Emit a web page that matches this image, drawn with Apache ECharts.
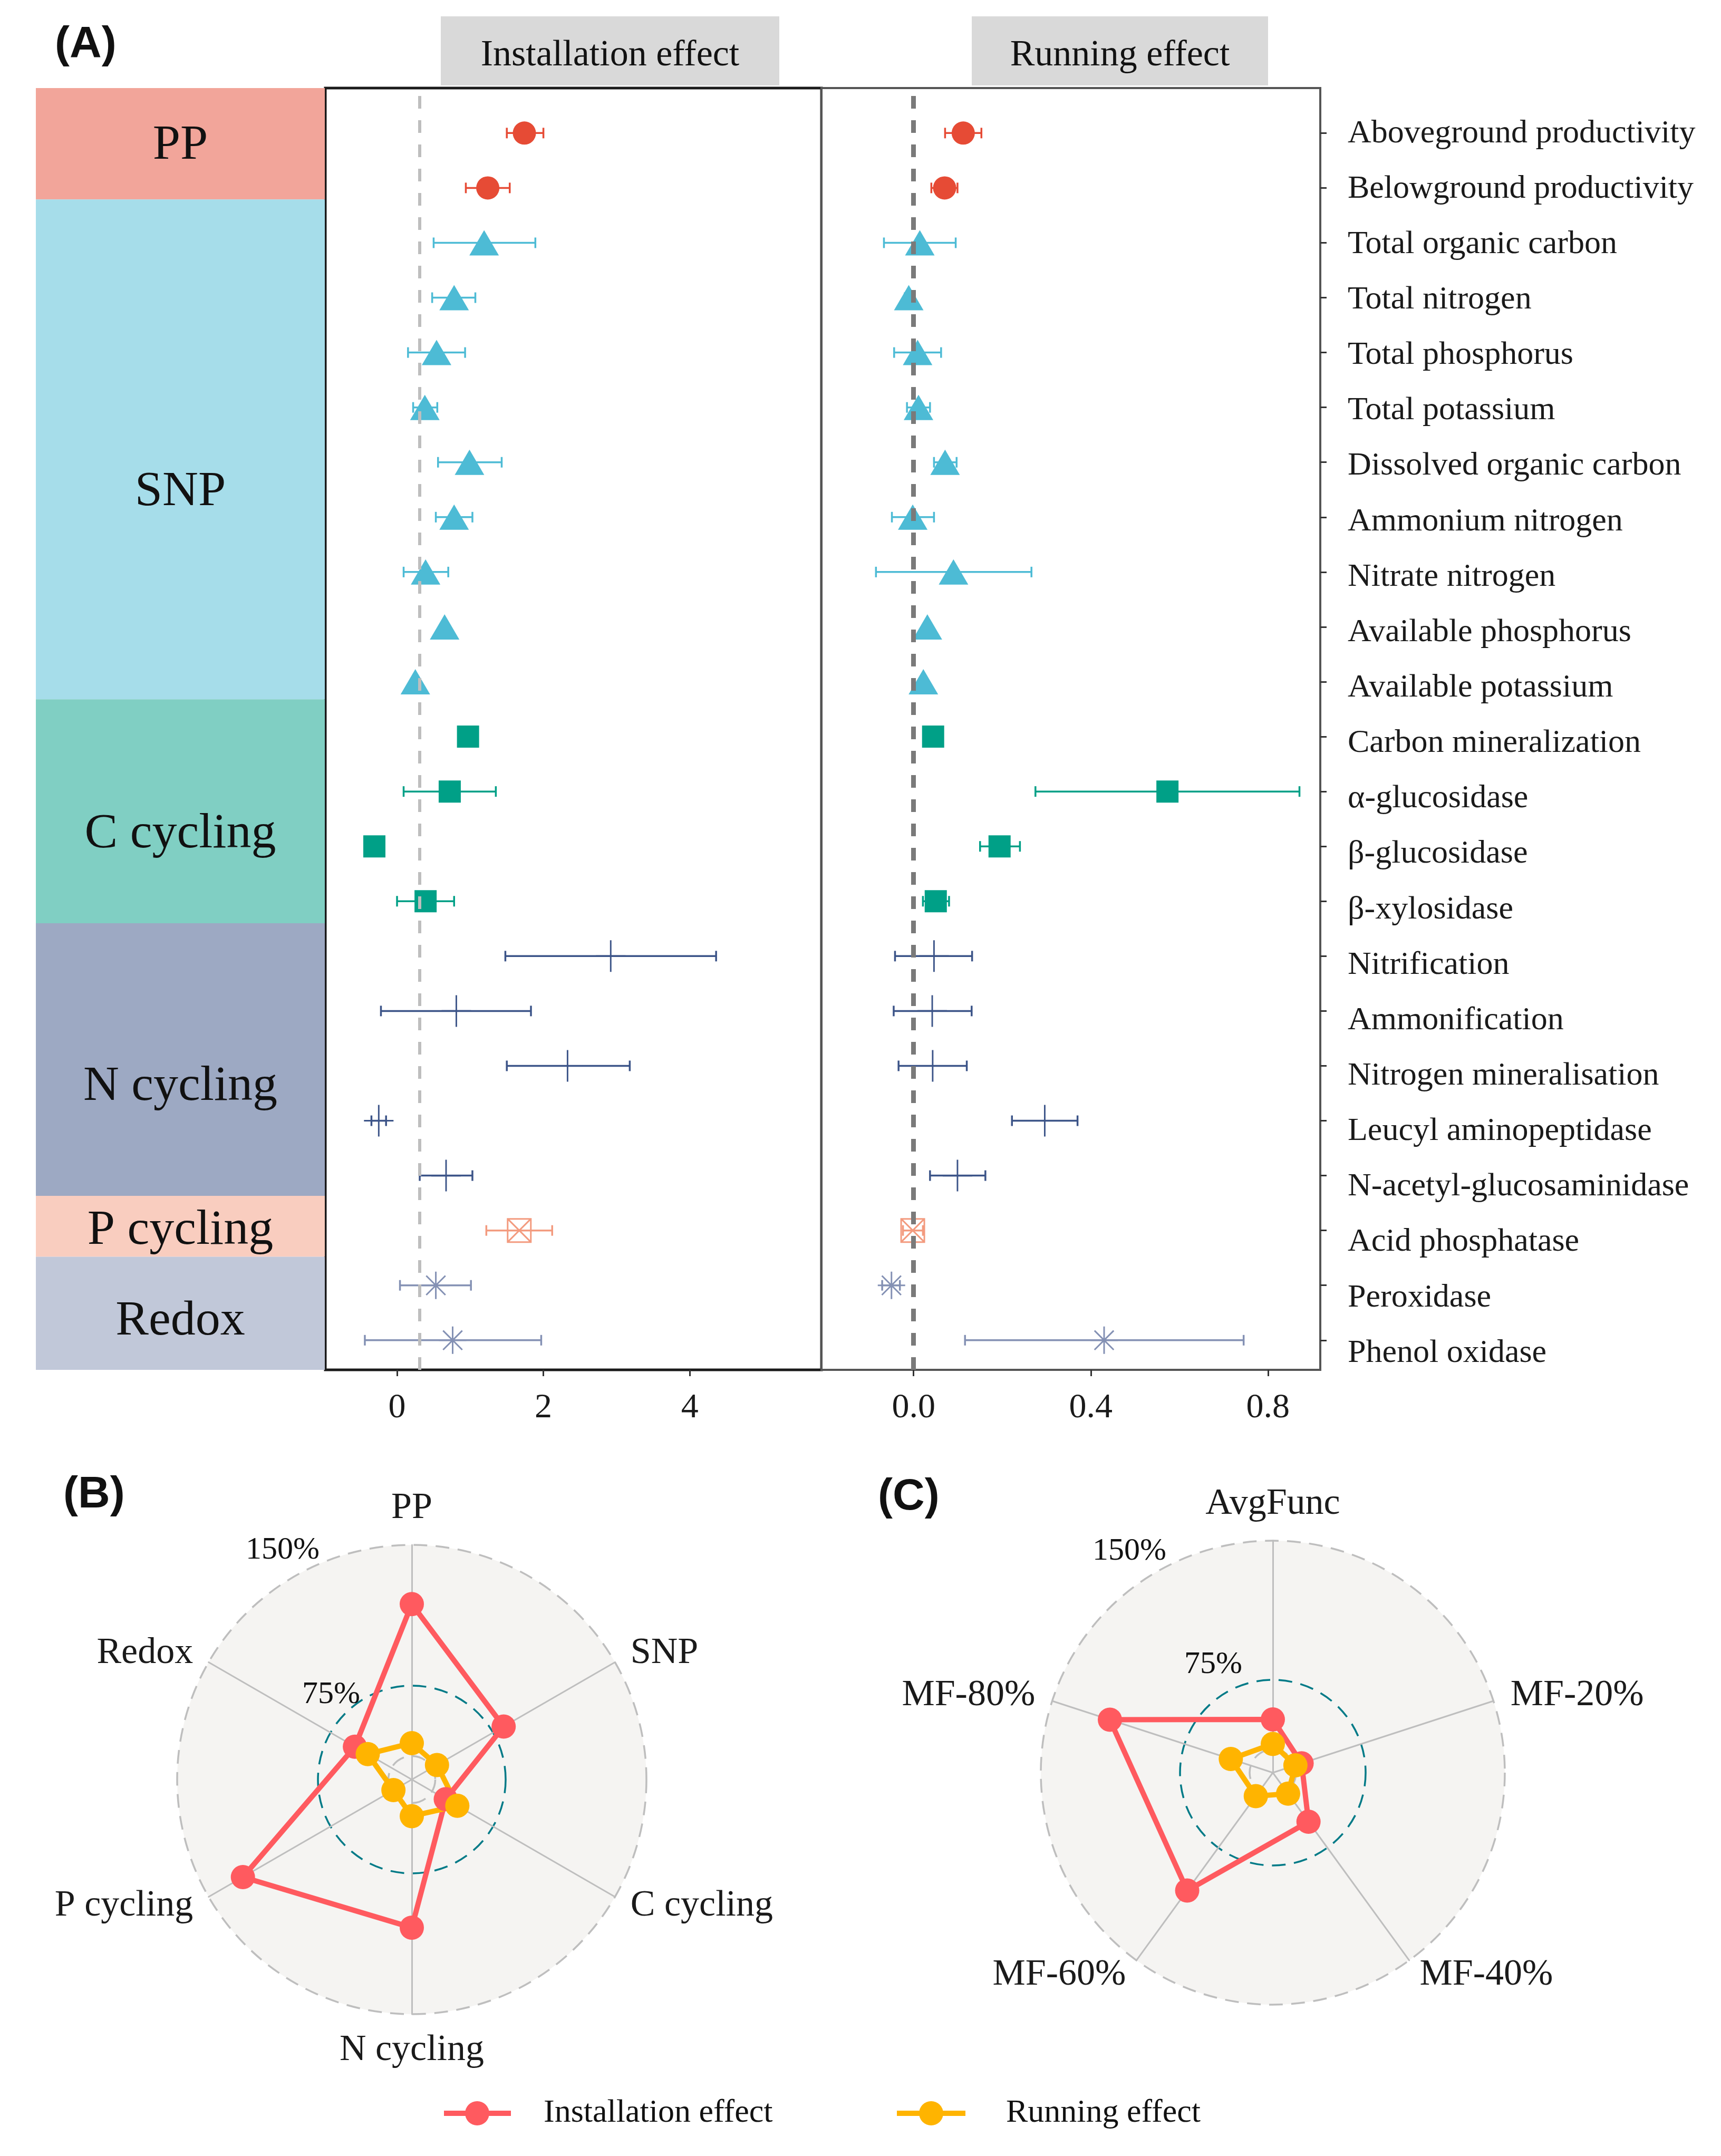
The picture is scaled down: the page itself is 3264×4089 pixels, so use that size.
<!DOCTYPE html>
<html>
<head>
<meta charset="utf-8">
<script src="https://cdn.jsdelivr.net/npm/echarts@6/dist/echarts.min.js"></script>
<style>html,body{margin:0;padding:0;background:#fff}#c{width:3264px;height:4089px}</style>
</head>
<body>
<div id="c"></div>
<script>
// ---------------- DATA ----------------
const variables = ['Aboveground productivity','Belowground productivity','Total organic carbon','Total nitrogen','Total phosphorus','Total potassium','Dissolved organic carbon','Ammonium nitrogen','Nitrate nitrogen','Available phosphorus','Available potassium','Carbon mineralization','α-glucosidase','β-glucosidase','β-xylosidase','Nitrification','Ammonification','Nitrogen mineralisation','Leucyl aminopeptidase','N-acetyl-glucosaminidase','Acid phosphatase','Peroxidase','Phenol oxidase'];
const variableGroup = ['PP','PP','SNP','SNP','SNP','SNP','SNP','SNP','SNP','SNP','SNP','C cycling','C cycling','C cycling','C cycling','N cycling','N cycling','N cycling','N cycling','N cycling','P cycling','Redox','Redox'];

const instMean = [1.74,1.24,1.19,0.78,0.54,0.38,0.99,0.78,0.39,0.65,0.25,0.97,0.72,-0.31,0.39,2.92,0.81,2.33,-0.25,0.67,1.67,0.53,0.76];
const instLow  = [1.50,0.94,0.50,0.48,0.15,0.22,0.56,0.53,0.09,0.62,0.22,0.95,0.09,-0.33,0.00,1.48,-0.22,1.50,-0.35,0.31,1.22,0.04,-0.44];
const instHigh = [2.00,1.54,1.89,1.07,0.93,0.55,1.43,1.03,0.70,0.68,0.28,0.99,1.35,-0.29,0.78,4.36,1.83,3.18,-0.15,1.03,2.12,1.01,1.97];

const runMean = [0.112,0.070,0.014,-0.011,0.009,0.011,0.071,-0.002,0.090,0.031,0.022,0.044,0.573,0.194,0.050,0.046,0.042,0.043,0.296,0.099,-0.002,-0.050,0.430];
const runLow  = [0.071,0.040,-0.067,-0.020,-0.044,-0.015,0.046,-0.049,-0.085,0.026,0.017,0.040,0.275,0.150,0.021,-0.042,-0.045,-0.034,0.222,0.037,-0.024,-0.071,0.116];
const runHigh = [0.153,0.099,0.095,-0.002,0.062,0.037,0.097,0.046,0.266,0.036,0.027,0.048,0.871,0.240,0.080,0.132,0.131,0.120,0.370,0.162,0.021,-0.031,0.745];

const instRef = 0.31;
const runRef = 0;
const instTicks = [0, 2, 4];
const runTicks = [0, 0.4, 0.8];

const groups = ['PP','SNP','C cycling','N cycling','P cycling','Redox'];
const groupColors = ['#E64B35','#4DBBD5','#00A087','#3C5488','#F39B7F','#8491B4'];
const bandColors = ['#F2A59A','#A6DDEA','#80CFC3','#9DA9C3','#F9CDBF','#C1C8D9'];
const bandTop = [23.82, 21.79, 12.68, 8.60, 3.63, 2.52];
const bandBottom = [21.79, 12.68, 8.60, 3.63, 2.52, 0.46];
const bandLabelY = [22.77, 16.46, 10.22, 5.62, 2.99, 1.34];

const bAxes = ['PP','SNP','C cycling','N cycling','P cycling','Redox'];
const bInstallation = [118.5, 81.5, 45.9, 103.9, 128.9, 60.0];
const bRunning = [44.4, 40.5, 53.0, 44.5, 36.3, 52.1];
const cAxes = ['AvgFunc','MF-20%','MF-40%','MF-60%','MF-80%'];
const cInstallation = [53.7, 41.3, 57.7, 103.5, 117.3];
const cRunning = [40.5, 37.8, 39.0, 40.6, 48.8];
const radarMin = 25, radarMax = 150;
const gridLabels = ['150%','75%'];

// ---------------- STYLE ----------------
const SERIF = "'Liberation Serif','Times New Roman',serif";
const SANS = "'Liberation Sans',Arial,sans-serif";
const yMin = 0.46, yMax = 23.82;
const labelYMin = 0.70; // the row labels in the reference are spread slightly wider than the rows
const rowY = variables.map((v, i) => 24 - (i + 1));

const symbolFor = {
  'PP': {symbol:'circle', size:44, filled:true},
  'SNP': {symbol:'triangle', size:[56,48], filled:true},
  'C cycling': {symbol:'rect', size:42, filled:true},
  'N cycling': {symbol:'path://M5,0L5,10M0,5L10,5', size:[56,60], filled:false},
  'P cycling': {symbol:'path://M0,0L10,0L10,10L0,10ZM0,0L10,10M10,0L0,10', size:44, filled:false},
  'Redox': {symbol:'path://M5,0L5,10M0,5L10,5M1.5,1.5L8.5,8.5M8.5,1.5L1.5,8.5', size:52, filled:false}
};

function errRender(params, api) {
  const y = api.value(2);
  const p1 = api.coord([api.value(0), y]);
  const p2 = api.coord([api.value(1), y]);
  const h = 10;
  const style = {stroke: api.visual('color'), lineWidth: 3.5};
  return {type:'group', children:[
    {type:'line', shape:{x1:p1[0], y1:p1[1], x2:p2[0], y2:p2[1]}, style: style},
    {type:'line', shape:{x1:p1[0], y1:p1[1]-h, x2:p1[0], y2:p1[1]+h}, style: style},
    {type:'line', shape:{x1:p2[0], y1:p2[1]-h, x2:p2[0], y2:p2[1]+h}, style: style}
  ]};
}

function panelSeries(mean, low, high, axisIdx, ref, refColor, refWidth) {
  const out = [];
  out.push({
    type:'custom', xAxisIndex:axisIdx, yAxisIndex:axisIdx, z:2, silent:true,
    renderItem: errRender,
    data: variables.map((v, i) => ({
      value:[low[i], high[i], rowY[i]],
      itemStyle:{color: groupColors[groups.indexOf(variableGroup[i])]}
    }))
  });
  groups.forEach((g, gi) => {
    const s = symbolFor[g];
    const data = [];
    variables.forEach((v, i) => { if (variableGroup[i] === g) data.push([mean[i], rowY[i]]); });
    out.push({
      type:'scatter', xAxisIndex:axisIdx, yAxisIndex:axisIdx, z:3, silent:true,
      symbol:s.symbol, symbolSize:s.size,
      itemStyle: s.filled ? {color: groupColors[gi], opacity:1}
                          : {color:'rgba(0,0,0,0)', borderColor: groupColors[gi], borderWidth:3, opacity:1},
      data: data
    });
  });
  out.push({
    type:'scatter', xAxisIndex:axisIdx, yAxisIndex:axisIdx, z:5, silent:true, data:[],
    markLine:{silent:true, symbol:['none','none'], label:{show:false},
      lineStyle:{color:refColor, width:refWidth, type:[24,22]},
      data:[{xAxis: ref}]}
  });
  return out;
}

const bandSeries = {
  type:'custom', xAxisIndex:2, yAxisIndex:2, silent:true, z:1,
  renderItem: function(params, api) {
    const i = params.dataIndex;
    const tl = api.coord([0, api.value(0)]);
    const br = api.coord([1, api.value(1)]);
    const ly = api.coord([0.5, api.value(2)]);
    return {type:'group', children:[
      {type:'rect', shape:{x:tl[0], y:tl[1], width:br[0]-tl[0], height:br[1]-tl[1]}, style:{fill: bandColors[i]}},
      {type:'text', x:ly[0], y:ly[1], style:{text: groups[i], fill:'#111', font:'94px ' + SERIF, align:'center', verticalAlign:'middle', textAlign:'center', textVerticalAlign:'middle'}}
    ]};
  },
  data: groups.map((g, i) => [bandTop[i], bandBottom[i], bandLabelY[i]])
};

// radar (ECharts radar runs counter-clockwise, the reference runs clockwise)
function ccw(arr) { return [arr[0]].concat(arr.slice(1).reverse()); }
const ringColors = [];
for (let k = 0; k <= 10; k++) {
  const v = radarMin + k * (radarMax - radarMin) / 10;
  ringColors.push(v === 37.5 ? '#BEBEBE' : v === 75 ? '#007A87' : v === 150 ? '#BEBEBE' : 'rgba(0,0,0,0)');
}
function radarCfg(center, radius, axes) {
  return {
    center: center, radius: radius, startAngle: 90, shape:'circle', splitNumber:10,
    indicator: ccw(axes).map(n => ({name:n, min:radarMin, max:radarMax})),
    nameGap: 34,
    axisName:{color:'#1a1a1a', fontFamily:SERIF, fontSize:70},
    axisLine:{lineStyle:{color:'#BEBEBE', width:3}},
    axisTick:{show:false}, axisLabel:{show:false},
    splitLine:{lineStyle:{type:[26,16], width:3.5, color: ringColors}},
    splitArea:{show:true, areaStyle:{color:['#F5F4F2']}}
  };
}
const radarSeries = [
  {type:'radar', radarIndex:0, silent:true, z:3, symbol:'circle', symbolSize:46,
   data:[
     {name:'Installation effect', value: ccw(bInstallation), lineStyle:{color:'#FF5A5F', width:10}, itemStyle:{color:'#FF5A5F'}},
     {name:'Running effect', value: ccw(bRunning), lineStyle:{color:'#FFB400', width:10}, itemStyle:{color:'#FFB400'}}
   ]},
  {type:'radar', radarIndex:1, silent:true, z:3, symbol:'circle', symbolSize:46,
   data:[
     {name:'Installation effect', value: ccw(cInstallation), lineStyle:{color:'#FF5A5F', width:10}, itemStyle:{color:'#FF5A5F'}},
     {name:'Running effect', value: ccw(cRunning), lineStyle:{color:'#FFB400', width:10}, itemStyle:{color:'#FFB400'}}
   ]}
];

function txt(x, y, text, font, align) {
  return {type:'text', x:x, y:y, z:50, silent:true,
    style:{text:text, font:font, fill:'#111', align:align||'center', verticalAlign:'middle', textAlign:align||'center', textVerticalAlign:'middle'}};
}

const graphics = [
  {type:'rect', shape:{x:836, y:31, width:642, height:131}, style:{fill:'#D9D9D9'}, silent:true},
  {type:'rect', shape:{x:1843, y:31, width:562, height:131}, style:{fill:'#D9D9D9'}, silent:true},
  txt(1157, 106, 'Installation effect', '70px ' + SERIF),
  txt(2124, 106, 'Running effect', '70px ' + SERIF),
  txt(104, 86, '(A)', 'bold 84px ' + SANS, 'left'),
  txt(120, 2836, '(B)', 'bold 84px ' + SANS, 'left'),
  txt(1665, 2840, '(C)', 'bold 84px ' + SANS, 'left'),
  txt(536, 2940, gridLabels[0], '60px ' + SERIF),
  txt(628, 3214, gridLabels[1], '60px ' + SERIF),
  txt(2142, 2942, gridLabels[0], '60px ' + SERIF),
  txt(2301, 3157, gridLabels[1], '60px ' + SERIF),
  // legend
  {type:'line', shape:{x1:842, y1:4008, x2:969, y2:4008}, style:{stroke:'#FF5A5F', lineWidth:10}, silent:true},
  {type:'circle', shape:{cx:905, cy:4008, r:23}, style:{fill:'#FF5A5F'}, silent:true},
  txt(1031, 4008, 'Installation effect', '62px ' + SERIF, 'left'),
  {type:'line', shape:{x1:1701, y1:4008, x2:1831, y2:4008}, style:{stroke:'#FFB400', lineWidth:10}, silent:true},
  {type:'circle', shape:{cx:1766, cy:4008, r:23}, style:{fill:'#FFB400'}, silent:true},
  txt(1908, 4008, 'Running effect', '62px ' + SERIF, 'left')
];

const xAxisCommon = {
  type:'value', axisLine:{show:false, onZero:false}, splitLine:{show:false},
  axisTick:{show:true, length:12, lineStyle:{color:'#333', width:3}},
  axisLabel:{fontFamily:SERIF, fontSize:66, color:'#1a1a1a', margin:40}
};

const option = {
  animation:false,
  backgroundColor:'#ffffff',
  grid:[
    {left:617, top:167, width:941, height:2431, show:true, borderColor:'#1a1a1a', borderWidth:5, backgroundColor:'#fff'},
    {left:1558, top:167, width:946, height:2431, show:true, borderColor:'#555', borderWidth:4, backgroundColor:'#fff'},
    {left:68, top:167, width:548, height:2431, show:false}
  ],
  xAxis:[
    Object.assign({}, xAxisCommon, {gridIndex:0, min:-0.98, max:5.80,
      axisTick:Object.assign({}, xAxisCommon.axisTick, {customValues: instTicks}),
      axisLabel:Object.assign({}, xAxisCommon.axisLabel, {customValues: instTicks, formatter: v => String(v)})}),
    Object.assign({}, xAxisCommon, {gridIndex:1, min:-0.208, max:0.918,
      axisTick:Object.assign({}, xAxisCommon.axisTick, {customValues: runTicks}),
      axisLabel:Object.assign({}, xAxisCommon.axisLabel, {customValues: runTicks, formatter: v => Number(v).toFixed(1)})}),
    {type:'value', gridIndex:2, min:0, max:1, show:false}
  ],
  yAxis:[
    {type:'value', gridIndex:0, min:yMin, max:yMax, show:false},
    {type:'value', gridIndex:1, min:yMin, max:yMax, position:'right',
     axisLine:{show:false, onZero:false}, splitLine:{show:false},
     axisTick:{show:true, length:12, lineStyle:{color:'#333', width:3}, customValues: rowY},
     axisLabel:{show:false}},
    {type:'value', gridIndex:2, min:yMin, max:yMax, show:false},
    {type:'value', gridIndex:1, min:labelYMin, max:yMax, position:'right',
     axisLine:{show:false, onZero:false}, splitLine:{show:false}, axisTick:{show:false},
     axisLabel:{customValues: rowY, fontFamily:SERIF, fontSize:62, color:'#1a1a1a', margin:52,
       formatter: v => variables[Math.round(23 - v)]}}
  ],
  radar:[
    radarCfg([781, 3375], 445, bAxes),
    radarCfg([2414, 3362], 440, cAxes)
  ],
  graphic: graphics,
  series: [bandSeries]
    .concat(panelSeries(instMean, instLow, instHigh, 0, instRef, '#BEBEBE', 6))
    .concat(panelSeries(runMean, runLow, runHigh, 1, runRef, '#7A7A7A', 9))
    .concat(radarSeries)
};

const chart = echarts.init(document.getElementById('c'), null, {width:3264, height:4089});
chart.setOption(option);
</script>
</body>
</html>
